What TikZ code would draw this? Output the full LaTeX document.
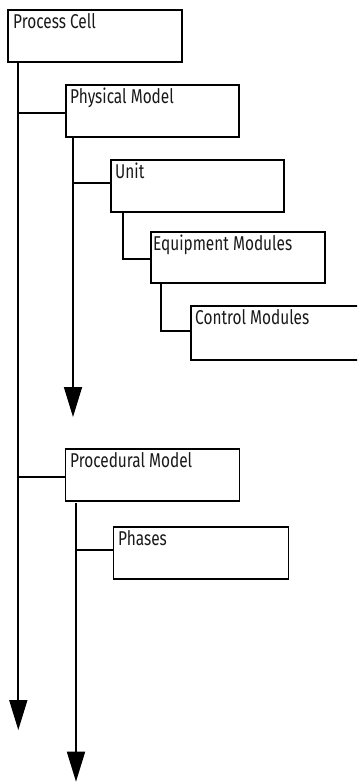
\documentclass[tikz,border=0pt]{standalone}
\usepackage{fontspec}
\setmainfont[FakeStretch=0.77]{Fira Sans}
\usetikzlibrary{arrows.meta}
\tikzset{
  box/.style={draw=black, line width=1.7pt, rectangle, inner sep=0pt, anchor=north west},
  lbl/.style={anchor=north west, inner sep=0pt, font=\fontsize{20}{22}\selectfont, text=black!90},
  wire/.style={draw=black, line width=1.7pt},
  arr/.style={wire, -{Triangle[width=18pt,length=30pt]}}
}
\begin{document}
\begin{tikzpicture}[x=1pt,y=-1pt]
\clip (0,0) rectangle (357,782);
% boxes
\node[box, minimum width=174pt, minimum height=52pt] (pc) at (7,9) {};
\node[lbl] (pct) at (13,13) {Process Cell};
\node[box, minimum width=173pt, minimum height=52pt] (pm) at (65,84) {};
\node[lbl] (pmt) at (70,88) {Physical Model};
\node[box, minimum width=173pt, minimum height=52pt] (un) at (110,159) {};
\node[lbl] (unt) at (115,163) {Unit};
\node[box, minimum width=174pt, minimum height=51pt] (em) at (150,231) {};
\node[lbl] (emt) at (153,235) {Equipment Modules};
\node[box, minimum width=180pt, minimum height=54pt] (cm) at (190,305) {};
\node[lbl] (cmt) at (195,309) {Control Modules};
\node[box, minimum width=174pt, minimum height=52pt] (pr) at (64.5,448) {};
\node[lbl] (prt) at (70,452) {Procedural Model};
\node[box, minimum width=175pt, minimum height=52pt] (ph) at (112.5,526) {};
\node[lbl] (pht) at (118,530) {Phases};
% spine coordinates
\coordinate (pcs) at (18.3,61);
\coordinate (pcend) at (18.3,730);
\coordinate (pcj1) at (18.3,112.7);
\coordinate (pcj2) at (18.3,476.7);
\coordinate (pms) at (73,136);
\coordinate (pmend) at (73,417);
\coordinate (pmj) at (73,182.7);
\coordinate (uns) at (123,211);
\coordinate (unj) at (123,259);
\coordinate (ems) at (161,282);
\coordinate (emj) at (161,330.7);
\coordinate (prs) at (76,502.7);
\coordinate (prend) at (76,781.7);
\coordinate (prj) at (76,550);
% connectors
\draw[arr] (pcs) -- (pcend);
\draw[wire] (pcj1) -- (pcj1 -| pm.west);
\draw[wire] (pcj2) -- (pcj2 -| pr.west);
\draw[arr] (pms) -- (pmend);
\draw[wire] (pmj) -- (pmj -| un.west);
\draw[wire] (uns) -- (unj) -- (unj -| em.west);
\draw[wire] (ems) -- (emj) -- (emj -| cm.west);
\draw[arr] (prs) -- (prend);
\draw[wire] (prj) -- (prj -| ph.west);
\end{tikzpicture}
\end{document}
